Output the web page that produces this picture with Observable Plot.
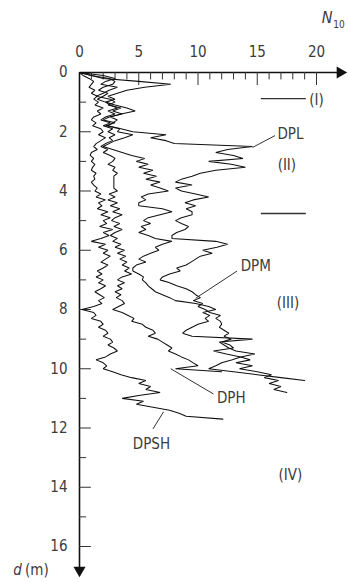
<!DOCTYPE html>
<html><head><meta charset="utf-8">
<script src="https://cdn.jsdelivr.net/npm/d3@7"></script>
<script src="https://cdn.jsdelivr.net/npm/@observablehq/plot@0.6"></script>
<style>body{margin:0;background:#fff}svg{display:block}svg text{font-stretch:condensed}</style>
</head><body><div id="chart"></div>
<script>
// depth step of the soundings (N10 = blows per 10 cm)
const depthStep = 0.1;
// N10 values from d = 0 downward, every 0.1 m
const dpsh = [0,
0.3,0.8,1.2,1.0,0.8,1.3,1.0,1.5,1.2,1.6,
1.3,2.0,1.5,1.8,1.2,1.0,1.4,1.1,1.8,2.0,
1.6,2.2,1.8,1.4,1.2,1.5,1.0,0.9,1.2,1.0,
1.3,1.1,1.0,1.4,1.2,1.3,1.0,1.2,1.5,1.3,
1.8,1.4,2.2,1.6,1.9,1.5,2.4,1.8,2.6,2.0,
2.3,1.7,2.8,2.0,2.5,1.8,1.0,2.2,1.6,2.4,
2.0,2.6,2.2,1.8,2.4,2.0,1.5,1.9,1.4,2.0,
1.6,2.2,1.8,1.3,1.7,2.1,1.6,1.9,1.2,0.2,
1.2,1.4,1.0,1.8,2.0,1.6,2.2,2.4,2.0,2.6,
2.8,2.4,2.9,3.2,2.6,2.2,1.4,2.0,2.3,2.0,
2.8,3.5,4.4,5.6,5.0,6.0,5.6,6.8,5.0,3.6,
5.4,4.8,6.2,7.6,8.4,9.0,12.1];
const dph = [0,
1.0,2.5,3.0,2.8,2.0,1.6,2.4,2.0,1.5,2.2,
2.6,3.2,2.4,3.0,2.2,1.8,2.6,2.0,2.8,2.4,
3.0,2.5,2.8,2.2,1.8,2.4,2.0,2.6,3.0,2.8,
2.4,3.0,2.8,3.2,2.9,2.9,2.9,2.9,2.9,3.2,
2.5,3.0,2.4,3.2,2.6,3.4,2.8,3.6,3.0,2.7,
3.4,2.9,3.6,3.0,2.6,3.2,2.8,3.5,3.0,3.8,
3.2,3.9,3.4,4.0,3.6,4.2,3.8,4.4,3.6,3.2,
3.8,3.2,3.6,3.0,3.5,3.1,3.6,3.8,3.3,2.8,
3.6,4.1,4.6,4.4,5.3,5.6,6.2,6.4,5.8,6.6,
7.0,7.4,7.8,7.5,8.1,8.6,9.2,9.6,10.0,8.1,
12.0];
const dpm = [0,
2.0,3.0,2.2,1.8,3.2,2.5,2.0,1.4,2.6,3.0,
2.4,3.5,2.8,3.6,2.5,2.0,3.0,2.2,3.4,3.2,
4.5,3.8,3.0,2.5,2.0,2.8,3.6,4.4,5.5,4.8,
5.8,5.0,6.2,5.4,6.5,5.6,6.8,6.0,6.8,7.5,
5.8,5.2,5.6,5.0,5.0,7.0,7.8,6.8,5.8,5.4,
6.0,5.2,5.6,5.0,5.8,6.4,7.8,7.0,6.4,6.7,
6.0,5.4,5.0,5.6,4.8,4.5,4.5,5.0,5.4,5.3,
5.6,5.8,6.1,6.4,7.0,7.6,8.1,9.8,10.9,11.5,
10.4,11.0,10.6,10.9,10.0,9.5,9.0,8.7,9.5,14.6,
11.8,12.2,12.6,13.2,14.8,13.6,12.9,12.0,11.5,10.9,
13.0,15.0,17.0,19.0];
const dpl = [0,
1.0,2.0,5.0,7.7,5.5,4.0,3.2,2.4,3.0,2.2,
3.0,4.0,4.7,3.5,2.6,3.2,2.8,2.4,3.5,4.5,
7.3,6.0,7.3,8.0,14.6,12.5,11.5,13.0,13.8,10.9,
12.8,14.0,11.5,10.2,9.5,8.6,8.1,9.5,8.1,8.6,
9.8,10.9,9.6,8.9,9.8,9.0,9.5,9.5,8.6,8.1,
8.6,9.2,8.9,8.2,7.8,7.8,11.5,12.5,11.6,10.4,
11.2,10.2,9.8,9.4,9.0,8.2,8.5,7.6,7.0,6.8,
7.6,8.2,9.0,9.5,9.8,10.2,9.6,10.4,10.0,10.6,
11.0,11.9,11.5,11.9,12.0,11.8,12.2,12.6,12.2,12.8,
12.0,12.7,13.0,11.3,12.4,13.6,14.4,13.2,14.6,13.5,
15.0,16.2,15.6,16.8,16.0,17.0,16.4,17.5];

const seriesNames = ["DPL","DPM","DPH","DPSH"];
const seriesValues = [dpl, dpm, dph, dpsh];

// axis ticks
const xMajor = [0,5,10,15,20];
const xMinor = [1,2,3,4,6,7,8,9,11,12,13,14,16,17,18,19];
const yMajor = [0,2,4,6,8,10,12,14,16];
const yMinor = [1,3,5,7,9,11,13,15];

// annotations: label text, position, leader line
const curveLabels = ["DPL","DPM","DPH","DPSH"];
const labelN = [16.7,13.6,11.6,4.5];
const labelD = [2.07,6.55,11.0,12.55];
const leaderN1 = [14.6,9.8,7.7,7.1];
const leaderD1 = [2.53,7.62,10.0,11.45];
const leaderN2 = [16.5,13.3,11.3,6.2];
const leaderD2 = [2.13,6.7,10.85,12.03];

const zoneLabels = ["(I)","(II)","(III)","(IV)"];
const zoneN = [20.0,17.5,17.6,17.8];
const zoneD = [0.95,3.14,7.8,13.6];
const zoneLineD = [0.88,4.76];
const zoneLineN1 = 15.3, zoneLineN2 = 19.1;

const data = [];
seriesNames.forEach((name, k) => seriesValues[k].forEach((n, i) => data.push({series: name, d: +(i*depthStep).toFixed(2), n})));

const font = "'DejaVu Sans Condensed', 'DejaVu Sans', sans-serif";
const txt = "#3c3c3c";

const chart = Plot.plot({
  width: 348, height: 582,
  marginLeft: 79, marginRight: 32, marginTop: 72, marginBottom: 36,
  style: {fontFamily: font, background: "#fff"},
  x: {domain: [0,20], axis: null},
  y: {domain: [0,16], reverse: true, axis: null},
  marks: [
    // axes
    Plot.link([0], {x1: 0, x2: 22.0, y1: 0, y2: 0, stroke: "#111", strokeWidth: 1.6}),
    Plot.link([0], {x1: 0, x2: 0, y1: 0, y2: 16.8, stroke: "#111", strokeWidth: 1.6}),
    Plot.dot([0], {x: 22.0, y: 0, symbol: "triangle", r: 4.5, rotate: 90, fill: "#111", stroke: null}),
    Plot.dot([0], {x: 0, y: 16.8, symbol: "triangle", r: 4.5, rotate: 180, fill: "#111", stroke: null}),
    Plot.ruleX(xMajor.filter(v => v > 0), {x: d => d, y1: 0, y2: 0.44, stroke: "#333", strokeWidth: 1}),
    Plot.ruleX(xMinor, {x: d => d, y1: 0, y2: 0.25, stroke: "#333", strokeWidth: 1}),
    Plot.ruleY(yMajor.filter(v => v > 0), {y: d => d, x1: 0, x2: 1.0, stroke: "#333", strokeWidth: 1}),
    Plot.ruleY(yMinor, {y: d => d, x1: 0, x2: 0.6, stroke: "#333", strokeWidth: 1}),
    Plot.text(xMajor, {x: d => d, y: 0, dy: -20, text: d => String(d), fontSize: 15, fill: txt}),
    Plot.text(yMajor, {x: 0, y: d => d, dx: -12, text: d => String(d), textAnchor: "end", fontSize: 15, fill: txt}),
    // axis titles
    Plot.text([0], {x: 20.9, y: -1.85, text: () => "N", fontStyle: "italic", fontSize: 16, fill: txt}),
    Plot.text([0], {x: 21.9, y: -1.6, text: () => "10", fontSize: 10, fill: txt}),
    Plot.text([0], {x: -5.6, y: 16.8, text: () => "d", fontStyle: "italic", textAnchor: "start", fontSize: 15, fill: txt}),
    Plot.text([0], {x: -4.6, y: 16.8, text: () => "(m)", textAnchor: "start", fontSize: 15, fill: txt}),
    // soundings
    Plot.line(data, {x: "n", y: "d", z: "series", stroke: "#111", strokeWidth: 1.05, strokeLinejoin: "miter"}),
    // leader lines and labels
    Plot.link(curveLabels, {x1: (d,i) => leaderN1[i], y1: (d,i) => leaderD1[i], x2: (d,i) => leaderN2[i], y2: (d,i) => leaderD2[i], stroke: "#333", strokeWidth: 1}),
    Plot.text(curveLabels, {x: (d,i) => labelN[i], y: (d,i) => labelD[i], text: d => d, textAnchor: "start", fontSize: 15, fill: txt, letterSpacing: "1.5px"}),
    Plot.link(zoneLineD, {x1: zoneLineN1, x2: zoneLineN2, y1: d => d, y2: d => d, stroke: "#333", strokeWidth: 1.3}),
    Plot.text(zoneLabels, {x: (d,i) => zoneN[i], y: (d,i) => zoneD[i], text: d => d, fontSize: 15, fill: txt, letterSpacing: "1px"})
  ]
});
document.getElementById("chart").appendChild(chart);
</script>
</body></html>
